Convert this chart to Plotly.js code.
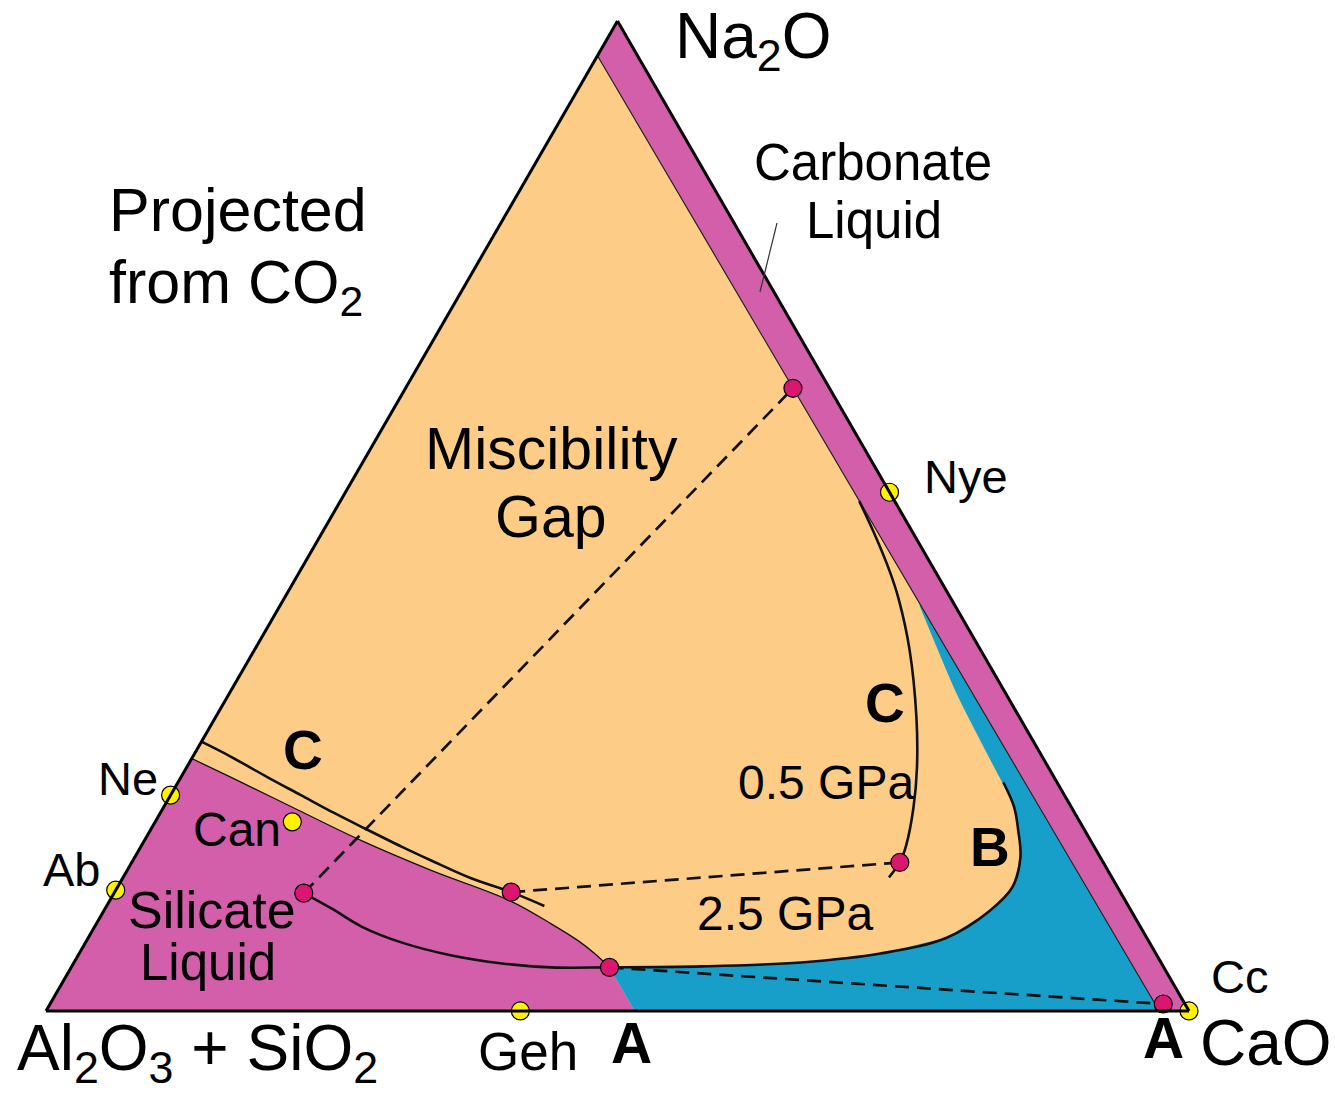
<!DOCTYPE html>
<html>
<head>
<meta charset="utf-8">
<script src="https://cdn.plot.ly/plotly-3.0.1.min.js"></script>
<style>
  html, body { margin: 0; padding: 0; background: #fff; }
  #chart { width: 1335px; height: 1094px; }
</style>
</head>
<body>
<div id="chart"></div>
<script>
// Compositions as [Na2O, Al2O3+SiO2, CaO] (wt %), projected from CO2.

// Carbonate liquid field: thin band along the Na2O–CaO join
const carbonateLiquid = [[100, 0, 0], [96.5, 3.5, 0], [0, 2.6, 97.4], [0, 0, 100]];

// Silicate liquid boundary (from the Na2O–(Al2O3+SiO2) join to the base)
const silicateLiquidEdge = [
  [25.5, 74.5, 0], [23.6, 72.0, 4.4], [20.3, 67.8, 11.9], [17.2, 63.8, 19.0],
  [14.2, 59.2, 26.6], [11.1, 53.8, 35.1], [8.8, 51.4, 39.8], [7.1, 49.9, 43.0],
  [5.8, 49.1, 45.1], [4.4, 48.5, 47.1], [2.3, 48.5, 49.2], [0, 48.5, 51.5]
];

// Upper edge of the blue field, below the carbonate liquid band
const blueUpperEdge = [[41.0, 3.0, 56.0], [38.2, 3.4, 58.4], [32.2, 4.2, 63.6], [27.4, 4.5, 68.1]];

// 2.5 GPa miscibility gap boundary
const gap25 = [
  [23.1, 4.7, 72.2], [20.6, 5.0, 74.4], [18.3, 5.8, 75.9], [15.5, 7.0, 77.5],
  [12.5, 9.2, 78.3], [10.1, 12.4, 77.5], [7.4, 17.5, 75.1], [5.8, 24.1, 70.1],
  [4.9, 31.5, 63.6], [4.5, 40.4, 55.1], [4.4, 48.5, 47.1], [4.4, 53.6, 42.0],
  [4.8, 57.7, 37.5], [5.6, 61.7, 32.7], [6.9, 65.4, 27.7], [8.5, 68.1, 23.4],
  [10.3, 69.8, 19.9], [11.9, 71.5, 16.6]
];

// 0.5 GPa miscibility gap boundary, silicate side
const gap05Silicate = [
  [27.2, 72.8, 0], [25.7, 71.0, 3.3], [23.6, 68.8, 7.6], [21.8, 66.8, 11.4],
  [20.0, 64.8, 15.2], [18.6, 63.1, 18.3], [16.6, 60.6, 22.8], [15.2, 58.7, 26.1],
  [13.4, 56.1, 30.5], [12.0, 53.3, 34.7], [10.6, 51.1, 38.3]
];

// 0.5 GPa miscibility gap boundary, carbonate side
const gap05Carbonate = [
  [51.5, 3.1, 45.4], [48.4, 3.4, 48.2], [44.3, 4.0, 51.7], [41.6, 4.6, 53.8],
  [36.5, 6.2, 57.3], [29.7, 9.0, 61.3], [24.6, 11.5, 63.9], [20.6, 13.8, 65.6],
  [16.7, 16.4, 66.9], [15.0, 17.8, 67.2], [13.5, 19.5, 67.0]
];

// Conjugate liquid pairs (tie lines)
const tieLines = [
  [[11.9, 71.5, 16.6], [62.9, 3.2, 33.9]],
  [[12.0, 53.3, 34.7], [15.0, 17.8, 67.2]],
  [[4.4, 48.5, 47.1], [0.7, 1.9, 97.4]]
];

// Phase compositions
const mineralNames = ['Ne', 'Can', 'Ab', 'Geh', 'Nye', 'Cc'];
const minerals = [[21.8, 78.2, 0], [19.1, 68.9, 12.0], [12.2, 87.8, 0], [0, 58.5, 41.5], [52.4, 0, 47.6], [0, 0, 100]];

const COL = {
  gap: '#FDCD88',
  liquid: '#D35FAB',
  blue: '#179FC9',
  liquidDot: '#DA1670',
  mineralDot: '#FFF200',
  ink: '#111'
};

const col = (pts, i) => pts.map(p => p[i]);
const tern = pts => ({ a: col(pts, 0), b: col(pts, 1), c: col(pts, 2) });

function field(pts, color, edge) {
  return Object.assign({
    type: 'scatterternary', mode: 'lines', fill: 'toself', fillcolor: color,
    line: { color: '#222', width: edge ? 1.2 : 0 }, hoverinfo: 'skip'
  }, tern(pts));
}
function curve(pts, width, dash) {
  return Object.assign({
    type: 'scatterternary', mode: 'lines',
    line: { color: COL.ink, width: width, dash: dash || 'solid', shape: 'spline', smoothing: 1 },
    hoverinfo: 'skip'
  }, tern(pts));
}

const silicateField = silicateLiquidEdge.concat([[0, 100, 0]]);
const p5 = gap25.findIndex(p => p[0] === 4.4 && p[1] === 48.5);
const blueField = blueUpperEdge
  .concat(gap25.slice(0, p5 + 1))
  .concat(silicateLiquidEdge.slice(-2))
  .concat([carbonateLiquid[2]]);
const blueTopEdge = blueUpperEdge.concat(gap25.slice(0, 1));

const liquidPoints = tieLines.flat();

const traces = [
  field(silicateField, COL.liquid, false),
  field(blueField, COL.blue, false),
  Object.assign({
    type: 'scatterternary', mode: 'lines', hoverinfo: 'skip',
    line: { color: COL.blue, width: 2, shape: 'spline' }
  }, tern(blueTopEdge)),
  field(carbonateLiquid, COL.liquid, true),
  curve(silicateLiquidEdge.slice(0, -2), 1.3),
  curve(gap05Silicate, 2.6),
  curve(gap05Carbonate, 2.6),
  curve(gap25, 2.6),
  ...tieLines.map(t => curve(t, 2.7, '14px,8px')),
  Object.assign({
    type: 'scatterternary', mode: 'markers', cliponaxis: false, hoverinfo: 'skip',
    marker: { size: 18, color: COL.liquidDot, line: { color: '#000', width: 1.2 } }
  }, tern(liquidPoints)),
  Object.assign({
    type: 'scatterternary', mode: 'markers', cliponaxis: false, hoverinfo: 'skip',
    text: mineralNames,
    marker: { size: 18, color: COL.mineralDot, line: { color: '#000', width: 1.2 } }
  }, tern(minerals))
];

// Layout: plot box in pixels
const L = 46, T = 21, W = 1143, H = 990;
const fx = x => (x - L) / W;
const fy = y => (T + H - y) / H;
const FONT = 'Liberation Sans, Arial, Helvetica, sans-serif';

function label(text, x, y, size, opts) {
  return Object.assign({
    text: text, x: fx(x), y: fy(y), xref: 'paper', yref: 'paper',
    xanchor: 'center', yanchor: 'middle', showarrow: false,
    font: { family: FONT, size: size, color: '#000' }
  }, opts || {});
}
const bold = t => '<b>' + t + '</b>';

const annotations = [
  label('Na<sub>2</sub>O', 673, 40, 64, { xanchor: 'left' }),
  label('Carbonate', 873, 162, 51),
  label('Liquid', 874, 221, 51),
  label('Projected', 107, 210, 61, { xanchor: 'left' }),
  label('from CO<sub>2</sub>', 107, 287, 61, { xanchor: 'left' }),
  label('Miscibility', 551, 449, 59),
  label('Gap', 551, 517, 59),
  label('Nye', 922, 477, 47, { xanchor: 'left' }),
  label(bold('C'), 885, 703, 55),
  label('0.5 GPa', 826, 782, 48),
  label(bold('B'), 990, 847, 55),
  label('2.5 GPa', 785, 913, 48),
  label(bold('C'), 303, 750, 55),
  label('Ne', 128, 778, 47),
  label('Can', 237, 829, 48),
  label('Ab', 72, 869, 47),
  label('Silicate', 212, 910, 52),
  label('Liquid', 208, 962, 51),
  label('Cc', 1239, 976, 47),
  label('Geh', 528, 1051, 53),
  label(bold('A'), 631, 1043, 57),
  label(bold('A'), 1163, 1038, 57),
  label('CaO', 1198, 1043, 64, { xanchor: 'left' }),
  label('Al<sub>2</sub>O<sub>3</sub> + SiO<sub>2</sub>', 15, 1052, 64, { xanchor: 'left' })
];

const hiddenAxis = {
  min: 0, showticklabels: false, ticks: '', showgrid: false,
  showline: true, linecolor: '#000', linewidth: 3, title: { text: '' }
};

const layout = {
  width: 1335, height: 1094,
  margin: { l: L, r: 1335 - L - W, t: T, b: 1094 - T - H, pad: 0 },
  paper_bgcolor: '#fff',
  showlegend: false,
  hovermode: false,
  ternary: {
    sum: 100,
    bgcolor: COL.gap,
    domain: { x: [0, 1], y: [0, 1] },
    aaxis: hiddenAxis, baxis: hiddenAxis, caxis: hiddenAxis
  },
  annotations: annotations,
  shapes: [{
    type: 'line', xref: 'paper', yref: 'paper',
    x0: fx(777), y0: fy(223), x1: fx(760), y1: fy(292),
    line: { color: '#333', width: 1.2 }
  }]
};

Plotly.newPlot('chart', traces, layout, { staticPlot: true, displayModeBar: false });
</script>
</body>
</html>
